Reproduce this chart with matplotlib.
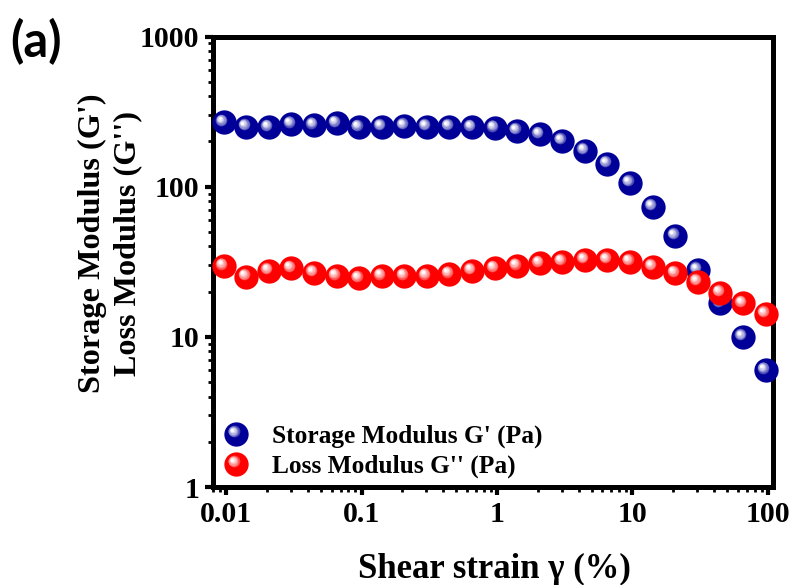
import matplotlib
matplotlib.use("Agg")
import matplotlib.pyplot as plt
import matplotlib.transforms as mtransforms
from matplotlib.legend_handler import HandlerBase
from matplotlib.lines import Line2D
from matplotlib.ticker import LogLocator, FixedLocator, FixedFormatter, NullFormatter
import numpy as np

# Amplitude sweep data
strain = [0.0096, 0.0141, 0.0207, 0.0303, 0.0445, 0.0653, 0.096, 0.141, 0.207,
          0.303, 0.445, 0.653, 0.96, 1.41, 2.07, 3.03, 4.45, 6.53, 9.6, 14.1,
          20.7, 30.3, 44.5, 65.3, 96.0]
storage_modulus = [268, 251, 248, 261, 257, 264, 248, 251, 254, 251, 251, 248, 245,
                   236, 223, 202, 174, 142, 106, 73.6, 47.0, 27.9, 16.7, 10.0, 6.0]
loss_modulus = [29.6, 25.2, 27.6, 28.6, 26.7, 25.4, 24.5, 25.4, 25.4, 25.4, 26.2, 27.6,
                28.6, 29.6, 30.9, 31.7, 32.5, 32.5, 31.7, 29.3, 26.5, 23.3, 19.7, 16.7, 14.2]

x_ticks = [0.01, 0.1, 1, 10, 100]
x_ticklabels = ["0.01", "0.1", "1", "10", "100"]
y_ticks = [1, 10, 100, 1000]
y_ticklabels = ["1", "10", "100", "1000"]

series = [
    ("Storage Modulus G' (Pa)", storage_modulus, (0.0, 0.0, 0.60)),
    ("Loss Modulus G'' (Pa)", loss_modulus, (1.0, 0.0, 0.0)),
]

MS = 17.5  # marker diameter in points


def sphere_layers(base, ms):
    """Concentric circles (size, color, dx, dy) giving a shaded ball look."""
    base = np.array(base)
    white = np.array([1.0, 1.0, 1.0])
    layers = [(ms, tuple(base), 0.0, 0.0)]
    hx, hy = -0.17 * ms, 0.17 * ms
    n = 7
    for i in range(n):
        t = i / (n - 1)
        size = ms * (0.48 - 0.36 * t)
        mix = 0.30 + 0.70 * t ** 0.8
        col = tuple(base * (1 - mix) + white * mix)
        layers.append((size, col, hx * (0.6 + 0.4 * t), hy * (0.6 + 0.4 * t)))
    return layers


class SphereHandler(HandlerBase):
    def __init__(self, base):
        super().__init__()
        self.base = base

    def create_artists(self, legend, orig_handle, xdescent, ydescent, width,
                       height, fontsize, trans):
        cx = width / 2 - xdescent
        cy = height / 2 - ydescent
        arts = []
        for size, col, dx, dy in sphere_layers(self.base, MS):
            ln = Line2D([cx + dx], [cy + dy], marker="o", ms=size, color=col,
                        mec="none", ls="none")
            ln.set_transform(trans)
            arts.append(ln)
        return arts


fig = plt.figure(figsize=(7.92, 5.85), dpi=100)
ax = fig.add_axes([213 / 792, 1 - 487 / 585, 560 / 792, 450.5 / 585])

ax.set_xscale("log")
ax.set_yscale("log")
ax.set_xlim(0.0080, 109)
ax.set_ylim(1, 1000)

handles = []
for label, vals, base in series:
    for k, (size, col, dx, dy) in enumerate(sphere_layers(base, MS)):
        tr = mtransforms.offset_copy(ax.transData, fig=fig, x=dx, y=dy, units="points")
        ax.plot(strain, vals, ls="none", marker="o", ms=size, color=col,
                mec="none", transform=tr, clip_on=False, zorder=3)
    handles.append(Line2D([], [], ls="none", marker="o", color=base, label=label))

serif = "Liberation Serif"

leg = ax.legend(handles=handles, loc="lower left", bbox_to_anchor=(0.014, 0.02),
                frameon=False, borderpad=0, borderaxespad=0,
                handlelength=1.2, handletextpad=0.82, labelspacing=0.25,
                prop={"family": serif, "weight": "bold", "size": 18.3},
                handler_map={handles[0]: SphereHandler(series[0][2]),
                             handles[1]: SphereHandler(series[1][2])})

# Axes styling
for side in ["left", "right", "top", "bottom"]:
    ax.spines[side].set_linewidth(3.6)
ax.xaxis.set_major_locator(FixedLocator(x_ticks))
ax.xaxis.set_major_formatter(FixedFormatter(x_ticklabels))
ax.yaxis.set_major_locator(FixedLocator(y_ticks))
ax.yaxis.set_major_formatter(FixedFormatter(y_ticklabels))
ax.xaxis.set_minor_locator(LogLocator(base=10, subs=np.arange(2, 10)))
ax.yaxis.set_minor_locator(LogLocator(base=10, subs=np.arange(2, 10)))
ax.xaxis.set_minor_formatter(NullFormatter())
ax.yaxis.set_minor_formatter(NullFormatter())
ax.tick_params(which="major", direction="out", length=6, width=3, pad=4,
               top=False, right=False)
ax.tick_params(which="minor", direction="out", length=3.5, width=2,
               top=False, right=False)
for lab in ax.get_xticklabels() + ax.get_yticklabels():
    lab.set_family(serif)
    lab.set_weight("bold")
    lab.set_fontsize(21.5)

ax.set_xlabel("Shear strain \u03b3 (%)", family=serif, weight="bold", fontsize=25)
ax.xaxis.set_label_coords(0.502, -0.147)
ax.set_ylabel("Storage Modulus (G')\nLoss Modulus (G'')", family=serif,
              weight="bold", fontsize=23.2, linespacing=1.25)
ax.yaxis.set_label_coords(-0.127, 0.54)

fig.text(10 / 792, 1 - 42 / 585, "(a)", family="Lato", weight="bold", fontsize=35,
         va="center", ha="left")

fig.savefig("out.png", dpi=100)
